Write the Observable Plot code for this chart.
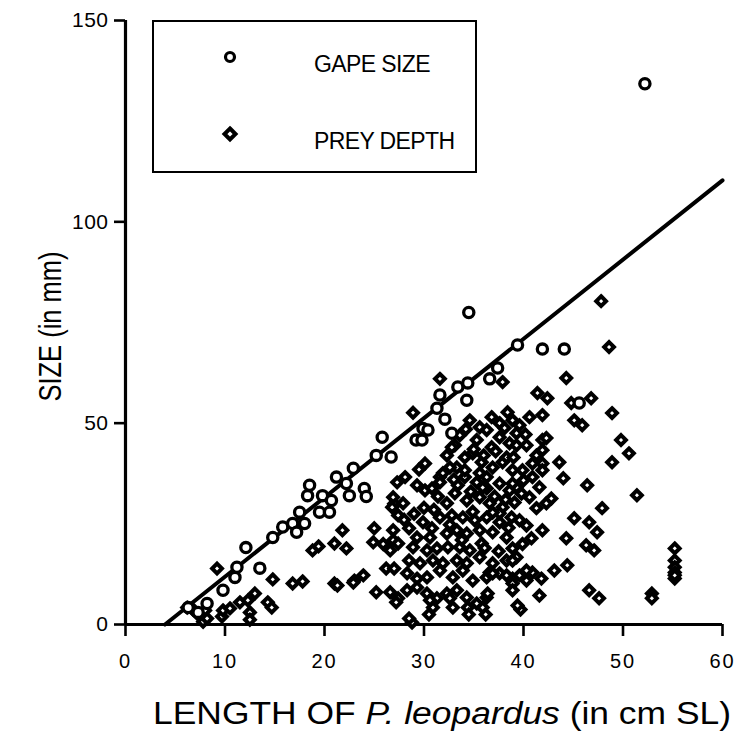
<!DOCTYPE html>
<html><head><meta charset="utf-8">
<script src="https://cdn.jsdelivr.net/npm/d3@7"></script>
<script src="https://cdn.jsdelivr.net/npm/@observablehq/plot@0.6"></script>
<style>
body{margin:0;background:#fff;}
#wrap{position:relative;width:737px;height:738px;overflow:hidden;font-family:"Liberation Sans",Arial,Helvetica,sans-serif;}
#legend{position:absolute;left:152px;top:20px;width:321px;height:149px;border:2px solid #000;background:#fff;}
#legend svg{position:absolute;left:0;top:0;}
.lt{position:absolute;font-size:23px;letter-spacing:-0.6px;line-height:1;white-space:nowrap;}
#xtitle{position:absolute;left:444px;top:698px;font-size:31px;line-height:1;white-space:nowrap;}
#ytitle{position:absolute;left:50px;top:326px;font-size:31px;line-height:1;white-space:nowrap;}
g[aria-label="x-axis tick label"] text{font-size:20px !important;letter-spacing:2px;}
g[aria-label="y-axis tick label"] text{font-size:21px !important;letter-spacing:0.5px;}
g[aria-label="x-axis tick"] path, g[aria-label="y-axis tick"] path{stroke-width:2.6px;}
</style>
</head><body>
<div id="wrap"></div>
<script>
// ---- data ----
const xTicks = [0, 10, 20, 30, 40, 50, 60];
const yTicks = [0, 50, 100, 150];
const legendLabels = ["GAPE SIZE", "PREY DEPTH"];
const xTitleText = ["LENGTH OF ", "P. leopardus", " (in cm SL)"];
const yTitleText = "SIZE (in mm)";

// regression line end points (length cm, size mm)
const fitX = [3.97, 60];
const fitY = [0, 110.3];

// gape size (open circles)
const gapeX = [6.3,7.3,8.2,9.8,11,11.2,12.1,13.5,14.8,15.8,16.8,17.2,17.5,18,18.3,18.5,19.5,19.8,20.5,20.7,21.2,22.2,22.5,22.9,24,24.2,25.2,25.8,26.7,29.2,29.8,29.9,30.4,31.3,31.6,32.1,32.8,33.4,34.3,34.4,34.5,36.6,37.4,39.4,41.9,44.1,45.6,52.2];
const gapeY = [4.2,3,5.2,8.5,11.7,14.2,19.1,14,21.6,24.2,25.1,22.9,27.9,25.1,32,34.6,27.9,32,27.9,30.8,36.6,35,32,38.8,33.8,31.8,42,46.5,41.6,45.8,45.8,48.7,48.3,53.7,57,51,47.5,59,55.7,60,77.5,61,63.7,69.4,68.4,68.4,55,134.3];

// prey depth (diamonds)
const preyX = [6.2,6.8,7.2,7.8,8.0,8.2,9.2,9.7,9.8,10.5,11.5,12.5,12.5,13.0,12.3,14.3,14.7,14.8,16.8,17.8,18.8,19.4,21,21,21.8,22.2,21.3,23,23.9,22.9,25.2,26.6,27.4,27.2,28.8,25,24.9,25.9,26.9,27,27.4,26.2,27,26.9,27.4,26.6,27.3,28.1,26.9,26.8,27.9,29.3,30.1,30.8,31.6,28.5,29.3,29.9,30.8,30.6,28.9,30.3,31.3,32.3,33.3,34.3,35.6,36.9,38.3,32.4,33.6,34.6,35.8,28.5,29.6,30.9,31.9,33.3,34.3,35.6,36.9,38.3,39.3,28.3,29.3,30.3,31.6,32.9,33.9,34.9,36.3,37.6,38.9,28.3,29.3,30.3,31.3,32.3,33.3,34.3,35.3,36.3,30.9,32.9,34.4,35.9,30.5,34.5,36.2,39.7,34.6,35.6,36.8,38.4,35.3,36.3,37.6,38.9,36.8,37.6,38.6,39.3,33.1,32.3,33.3,34.1,34.9,35.8,36.9,37.9,38.9,31.9,31.6,34.1,35.3,36.3,37.6,38.6,33.1,34.3,35.6,36.6,37.9,39.1,32.3,31.6,32.8,33.9,35.1,36.3,37.6,38.8,39.3,40.3,41.3,41.9,41.9,38.3,32.6,34.1,35.6,39.9,40.9,33.4,36.3,39.3,41.6,28.9,31.6,37.9,40.6,41.3,42.3,39.6,40.3,41.9,40.8,38.9,38.9,36.6,38.3,39.6,40.9,38.9,40.3,41.8,41.6,39.4,36.4,32.6,30.6,28.5,47.8,48.6,44.3,41.4,42.4,44.8,46.8,45.1,45.9,48.9,49.8,50.6,48.9,51.4,46.4,43.6,44,47.9,45.1,46.6,47.4,44.3,46.3,47.1,43.1,44.4,46.6,47.6,52.9,52.9,55.2,55.2,55.2,55.2,55.2,55.2,42.8,42.3,40.6,41.9,40.9,41.9,39,40,38.9,37.6,40.3,36.9,38.9,41.9,
  32.8,33.6,34.2,35,36,37.2,38.1,39.6,40.2,33,34.7,35.9,37.1,38.2,39.8,31,32.6,34.9,36.9,38.5,31.4,30,29,28,33.8,36.1,37.5,39.9,30.1,29.5];
const preyY = [4.2,3.7,2.7,0.7,3.5,1.5,13.9,2,3.5,4,5.5,3,1.2,7.7,6.0,5.5,4.2,11.2,10.2,10.7,18.4,19.4,20.1,10.2,23.4,18.9,9.7,10.9,12.2,10.4,8,8,6.5,5.5,0.5,23.9,20.4,20.0,20.9,30,27.1,13.9,13.9,23.4,20.1,18.4,35.3,36.6,31.6,29.1,30.1,34.6,33.3,33.8,36.6,23.9,21.6,25.4,23.9,21.6,19.2,18.4,18.9,22.6,23.4,22.6,23.4,22.9,21.6,19.2,19.2,18.4,20.1,15.9,15.2,15.9,15.2,15.9,15.2,16.7,15.2,15.9,16.7,12.7,11.4,11.7,13.4,11.7,13.4,10.9,11.7,12.7,11.4,8.5,9.2,7.7,6.5,7.7,8.5,6.7,5.2,6.7,4.2,4.2,4.2,4.2,2.5,2.5,2.5,3.7,50.7,49,51.5,52.7,45.8,48.3,50,50.7,44,46.5,45,47.5,44.5,42,39,41.5,42.5,40.3,39,40.3,38.3,37.6,35.3,36.6,35.3,36.6,35,33.3,32.6,30.8,31.6,30.1,29.1,30.3,30.1,26.6,27.1,26.6,25.9,26.6,25.4,26.6,44.5,44.5,42,45.8,40,41.5,39,38.3,37.6,38.3,36.6,34.6,33.8,34.1,34.1,52.6,61,60.2,31.6,28.9,30.1,25.9,24.6,23.4,21.4,18.9,15.9,12.9,12.2,12.2,12.9,10.2,10.9,11.4,7.2,4.7,7.7,6.5,6,1.5,80.3,68.9,61.2,57.5,56.2,55,56.2,50.7,49.5,52.5,45.8,42.5,40.3,32.1,34.6,40.3,36.3,28.9,26.4,25.4,22.9,21.4,19.7,18.4,13.4,14.7,8.5,6.5,7.7,6.5,18.9,15.9,14.2,12.9,11.4,12.2,31.3,46.3,51.5,52,40,38.3,41.5,35.8,35,27.6,13.4,12.7,8.5,43.3,
  44,47,48.5,43.5,42,43,48.8,49.5,47.2,36,33,34,31.8,31,32.5,28.5,24.8,28,27.8,24,31.8,29,27.5,26,21,19,18.2,20,40,38.5];

const gape = gapeX.map((x, i) => ({x, y: gapeY[i]}));
const prey = preyX.map((x, i) => ({x, y: preyY[i]}));
const fit = fitX.map((x, i) => ({x, y: fitY[i]}));

const chart = Plot.plot({
  width: 737,
  height: 738,
  marginLeft: 125,
  marginRight: 15,
  marginTop: 20,
  marginBottom: 114,
  style: {fontFamily: '"Liberation Sans", Arial, Helvetica, sans-serif', background: "white", color: "black"},
  x: {domain: [0, 60]},
  y: {domain: [0, 150]},
  marks: [
    Plot.axisX({ticks: xTicks, tickSize: 12, tickPadding: 17, strokeWidth: 2.6, label: null}),
    Plot.axisY({ticks: yTicks, tickSize: 11, tickPadding: 6, strokeWidth: 2.6, label: null}),
    Plot.ruleY([0], {stroke: "black", strokeWidth: 3.2}),
    Plot.ruleX([0], {stroke: "black", strokeWidth: 3.2}),
    Plot.line(fit, {x: "x", y: "y", stroke: "black", strokeWidth: 4}),
    Plot.dot(prey, {x: "x", y: "y", symbol: "diamond2", r: 4.4, stroke: "black", strokeWidth: 4, fill: "white"}),
    Plot.dot(gape, {x: "x", y: "y", symbol: "circle", r: 5.1, stroke: "black", strokeWidth: 3.3, fill: "white"})
  ]
});

const wrap = document.getElementById("wrap");
wrap.appendChild(chart);

// legend
const legend = document.createElement("div");
legend.id = "legend";
legend.innerHTML = `<svg width="321" height="149">
  <circle cx="76" cy="35" r="4.5" fill="white" stroke="black" stroke-width="3.2"></circle>
  <path d="M76,106.5 L81.5,112 L76,117.5 L70.5,112 Z" fill="white" stroke="black" stroke-width="4"></path>
</svg>
<div class="lt" style="left:160px;top:31px;">${legendLabels[0]}</div>
<div class="lt" style="left:160px;top:108px;">${legendLabels[1]}</div>`;
wrap.appendChild(legend);

// axis titles (fit to the reference's text extents)
const xt = document.createElement("div");
xt.id = "xtitle";
xt.innerHTML = `${xTitleText[0]}<i>${xTitleText[1]}</i>${xTitleText[2]}`;
wrap.appendChild(xt);
const yt = document.createElement("div");
yt.id = "ytitle";
yt.textContent = yTitleText;
wrap.appendChild(yt);

const xw = xt.getBoundingClientRect().width;
xt.style.transformOrigin = "0 0";
xt.style.transform = `translateX(${-291}px) scaleX(${578 / xw})`;
const yw = yt.getBoundingClientRect().width;
const yh = yt.getBoundingClientRect().height;
yt.style.transformOrigin = "50% 50%";
yt.style.left = (50 - yw / 2) + "px";
yt.style.top = (326 - yh / 2) + "px";
yt.style.transform = `rotate(-90deg) scaleX(${150 / yw})`;
</script>
</body></html>
